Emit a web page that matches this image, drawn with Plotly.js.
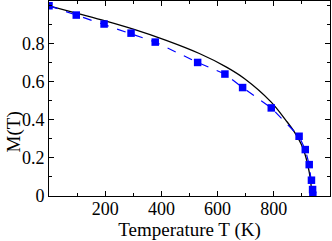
<!DOCTYPE html>
<html><head><meta charset="utf-8">
<script src="https://cdn.plot.ly/plotly-3.0.1.min.js"></script>
<style>html,body{margin:0;padding:0;background:#fff}#c{width:332px;height:241px}</style>
</head><body><div id="c"></div>
<script>
var simT = [0, 97, 196, 292, 378, 529, 626, 689, 791, 890, 912, 926, 934, 938, 939];
var simM = [1.0, 0.951, 0.904, 0.856, 0.809, 0.702, 0.641, 0.570, 0.463, 0.314, 0.244, 0.165, 0.083, 0.034, 0.004];
var fitT = [0, 100, 200, 300, 417, 535, 630, 695, 790, 843, 873, 902, 920, 932, 935];
var fitM = [1.0, 0.96, 0.92, 0.877, 0.818, 0.749, 0.679, 0.618, 0.495, 0.398, 0.337, 0.258, 0.17, 0.067, 0.0];
var xTicks = [200, 400, 600, 800];
var yTicks = [0, 0.2, 0.4, 0.6, 0.8];
var yTickText = ['0', '0.2', '0.4', '0.6', '0.8'];

var tickFont = {family: 'Liberation Serif, Times New Roman, serif', size: 18, color: '#000'};
var titleFont = {family: 'Liberation Serif, Times New Roman, serif', size: 19, color: '#000'};
Plotly.newPlot('c', [
  {x: fitT, y: fitM, mode: 'lines', line: {color: '#000', width: 1.3, shape: 'spline'}, hoverinfo: 'skip'},
  {x: simT, y: simM, mode: 'lines+markers', line: {color: '#0000ff', width: 1.2, dash: 'dash'},
   marker: {symbol: 'square', size: 7.5, color: '#0000ff'}}
], {
  width: 332, height: 241,
  margin: {l: 49, r: 2, t: 1, b: 45},
  showlegend: false,
  paper_bgcolor: '#fff', plot_bgcolor: '#fff',
  font: tickFont,
  xaxis: {range: [0, 1000], tickvals: xTicks, ticks: 'inside', ticklen: 5, tickwidth: 1, tickcolor: '#000',
    showgrid: false, zeroline: false, showline: true, linecolor: '#000', linewidth: 1, mirror: 'allticks',
    ticklabelstandoff: -4,
    minor: {tickmode: 'linear', tick0: 0, dtick: 100, ticks: 'inside', ticklen: 3, tickcolor: '#000', showgrid: false},
    tickfont: tickFont, title: {text: 'Temperature T (K)', font: titleFont, standoff: 4}},
  yaxis: {range: [0, 1.025], tickvals: yTicks, ticktext: yTickText, ticks: 'inside', ticklen: 5, tickwidth: 1, tickcolor: '#000',
    showgrid: false, zeroline: false, showline: true, linecolor: '#000', linewidth: 1, mirror: 'allticks',
    minor: {tickmode: 'linear', tick0: 0, dtick: 0.1, ticks: 'inside', ticklen: 3, tickcolor: '#000', showgrid: false},
    tickfont: tickFont},
  annotations: [{text: 'M(T)', font: titleFont, textangle: -90, xref: 'paper', yref: 'paper',
    x: -0.125, y: 0.5, yshift: -33, xanchor: 'center', yanchor: 'middle', showarrow: false}]
}, {displayModeBar: false, staticPlot: true});
</script></body></html>
